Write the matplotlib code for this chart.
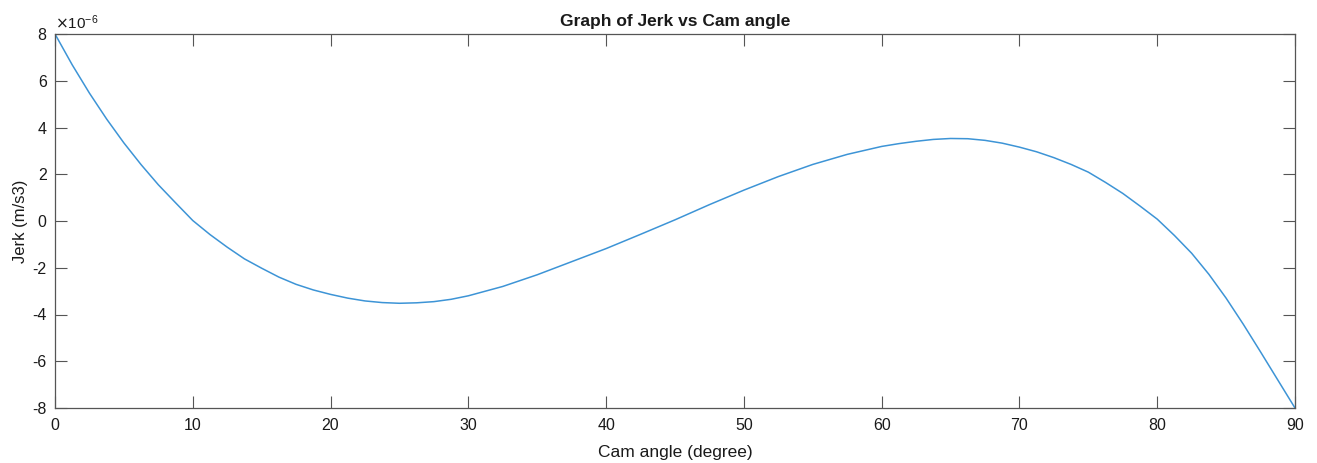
import matplotlib
matplotlib.use("Agg")
import matplotlib.pyplot as plt
import numpy as np
from matplotlib.ticker import FuncFormatter

# cam angle (degree) and jerk (units of 1e-6 m/s3)
cam_angle = [0, 1.25, 2.5, 3.75, 5, 6.25, 7.5, 8.75, 10, 11.25, 12.5,
             13.75, 15, 16.25, 17.5, 18.75, 20, 21.25, 22.5, 23.75, 25,
             26.25, 27.5, 28.75, 30, 32.5, 35, 37.5, 40, 42.5, 45, 47.5,
             50, 52.5, 55, 57.5, 60, 61.25, 62.5, 63.75, 65, 66.25, 67.5,
             68.75, 70, 71.25, 72.5, 73.75, 75, 76.25, 77.5, 78.75, 80,
             81.25, 82.5, 83.75, 85, 86.25, 87.5, 88.75, 90]
jerk_e6 = [8.0, 6.68, 5.47, 4.36, 3.34, 2.41, 1.55, 0.78, 0.02, -0.58,
           -1.12, -1.62, -2.02, -2.40, -2.71, -2.95, -3.14, -3.30, -3.42,
           -3.49, -3.52, -3.50, -3.45, -3.35, -3.20, -2.80, -2.30, -1.74,
           -1.18, -0.57, 0.05, 0.70, 1.32, 1.90, 2.42, 2.85, 3.19, 3.31,
           3.41, 3.49, 3.53, 3.52, 3.45, 3.33, 3.16, 2.96, 2.71, 2.42,
           2.09, 1.65, 1.18, 0.64, 0.08, -0.62, -1.38, -2.28, -3.30,
           -4.42, -5.60, -6.80, -8.0]
jerk = np.array(jerk_e6) * 1e-6

plt.rcParams['font.family'] = ['Liberation Sans', 'DejaVu Sans']
plt.rcParams['axes.unicode_minus'] = False

axis_col = '#555555'
text_col = '#1a1a1a'
fig = plt.figure(figsize=(13.17, 4.63), dpi=100)
ax = fig.add_axes([55/1317, 1-408/463, 1240/1317, 374/463])
ax.plot(cam_angle, jerk, color='#3d94d6', linewidth=1.1)

ax.set_xlim(0, 90)
ax.set_ylim(-8e-6, 8e-6)
ax.set_xticks(np.arange(0, 91, 10))
ax.set_yticks(np.arange(-8, 9, 2) * 1e-6)
ax.yaxis.set_major_formatter(FuncFormatter(lambda v, p: '%g' % round(v * 1e6)))
ax.tick_params(direction='in', length=8.5, width=0.8, colors=axis_col,
               top=True, right=True, labelsize=11.5, labelcolor=text_col)
ax.tick_params(axis='x', pad=7)
ax.tick_params(axis='y', pad=6)
for s in ax.spines.values():
    s.set_color(axis_col)
    s.set_linewidth(0.9)

ax.text(0.0, 1.006, r'$\times\mathregular{10^{-6}}$', transform=ax.transAxes,
        fontsize=11, color=text_col, ha='left', va='bottom')
ax.set_title('Graph of Jerk vs Cam angle', fontsize=12.5, fontweight='bold',
             color=text_col, pad=6)
ax.set_xlabel('Cam angle (degree)', fontsize=12.5, color=text_col, labelpad=9)
ax.set_ylabel('Jerk (m/s3)', fontsize=12, color=text_col, labelpad=3)

fig.savefig('out.png', dpi=100)
